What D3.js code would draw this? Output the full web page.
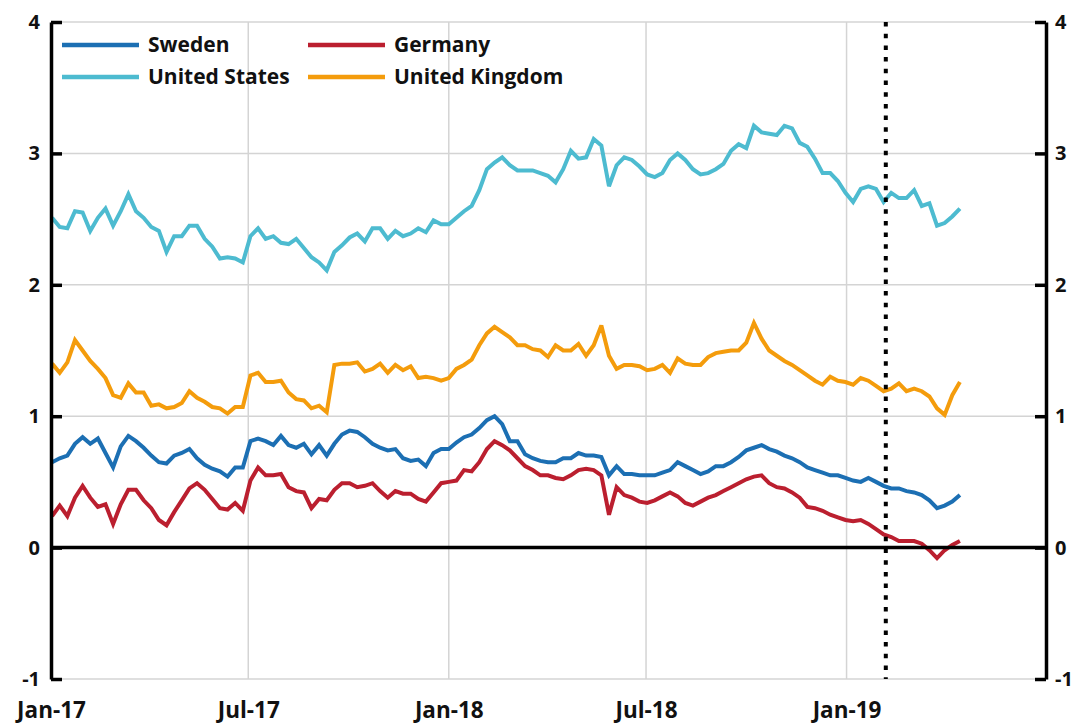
<!DOCTYPE html>
<html>
<head>
<meta charset="utf-8">
<script src="https://cdn.jsdelivr.net/npm/d3@7/dist/d3.min.js"></script>
<style>
  html, body { margin: 0; padding: 0; background: #fff; }
  svg { display: block; }
  text { font-family: "Open Sans", "DejaVu Sans", sans-serif; font-weight: 700; fill: #111; }
</style>
</head>
<body>
<svg id="chart" width="1079" height="725"></svg>
<script>
// ---- data (weekly observations, Mondays from 2 Jan 2017) ----
const firstWeek = "2017-01-02";
const lastWeek = "2019-04-15";
const seriesNames = ["Sweden", "Germany", "United States", "United Kingdom"];

const sweden = [0.65,0.68,0.70,0.79,0.84,0.79,0.83,0.72,0.61,0.77,
  0.85,0.81,0.76,0.70,0.65,0.64,0.70,0.72,0.75,0.68,
  0.63,0.60,0.58,0.54,0.61,0.61,0.81,0.83,0.81,0.78,
  0.85,0.78,0.76,0.79,0.71,0.78,0.70,0.79,0.86,0.89,
  0.88,0.84,0.79,0.76,0.74,0.75,0.68,0.66,0.67,0.62,
  0.72,0.75,0.75,0.80,0.84,0.86,0.91,0.97,1.00,0.94,
  0.81,0.81,0.71,0.68,0.66,0.65,0.65,0.68,0.68,0.72,
  0.70,0.70,0.69,0.55,0.62,0.56,0.56,0.55,0.55,0.55,
  0.57,0.59,0.65,0.62,0.59,0.56,0.58,0.62,0.62,0.65,
  0.69,0.74,0.76,0.78,0.75,0.73,0.70,0.68,0.65,0.61,
  0.59,0.57,0.55,0.55,0.53,0.51,0.50,0.53,0.50,0.47,
  0.45,0.45,0.43,0.42,0.40,0.36,0.30,0.32,0.35,0.40];

const germany = [0.24,0.32,0.24,0.38,0.47,0.38,0.31,0.33,0.18,0.33,
  0.44,0.44,0.36,0.30,0.21,0.17,0.27,0.36,0.45,0.49,
  0.44,0.37,0.30,0.29,0.34,0.28,0.51,0.61,0.55,0.55,
  0.56,0.46,0.43,0.42,0.30,0.37,0.36,0.44,0.49,0.49,
  0.46,0.47,0.49,0.43,0.38,0.43,0.41,0.41,0.37,0.35,
  0.42,0.49,0.50,0.51,0.59,0.58,0.65,0.75,0.81,0.78,
  0.74,0.68,0.62,0.59,0.55,0.55,0.53,0.52,0.55,0.59,
  0.60,0.59,0.55,0.25,0.46,0.40,0.38,0.35,0.34,0.36,
  0.39,0.42,0.39,0.34,0.32,0.35,0.38,0.40,0.43,0.46,
  0.49,0.52,0.54,0.55,0.49,0.46,0.45,0.42,0.38,0.31,
  0.30,0.28,0.25,0.23,0.21,0.20,0.21,0.18,0.14,0.10,
  0.08,0.05,0.05,0.05,0.03,-0.02,-0.08,-0.02,0.02,0.05];

const unitedStates = [2.51,2.44,2.43,2.56,2.55,2.41,2.51,2.58,2.45,2.56,
  2.69,2.56,2.51,2.44,2.41,2.25,2.37,2.37,2.45,2.45,
  2.35,2.29,2.20,2.21,2.20,2.17,2.37,2.43,2.35,2.37,
  2.32,2.31,2.35,2.28,2.21,2.17,2.11,2.25,2.30,2.36,
  2.39,2.33,2.43,2.43,2.35,2.41,2.37,2.39,2.43,2.40,
  2.49,2.46,2.46,2.51,2.56,2.60,2.72,2.88,2.93,2.97,
  2.91,2.87,2.87,2.87,2.85,2.83,2.78,2.88,3.02,2.96,
  2.97,3.11,3.06,2.75,2.91,2.97,2.95,2.90,2.84,2.82,
  2.85,2.95,3.00,2.95,2.88,2.84,2.85,2.88,2.92,3.02,
  3.07,3.04,3.21,3.16,3.15,3.14,3.21,3.19,3.08,3.05,
  2.96,2.85,2.85,2.79,2.70,2.63,2.73,2.75,2.73,2.63,
  2.70,2.66,2.66,2.72,2.60,2.62,2.45,2.47,2.52,2.58];

const unitedKingdom = [1.40,1.33,1.41,1.58,1.50,1.42,1.36,1.29,1.16,1.14,
  1.25,1.18,1.18,1.08,1.09,1.06,1.07,1.10,1.19,1.14,
  1.11,1.07,1.06,1.02,1.07,1.07,1.31,1.33,1.26,1.26,
  1.27,1.18,1.13,1.12,1.06,1.08,1.03,1.39,1.40,1.40,
  1.41,1.34,1.36,1.40,1.33,1.39,1.35,1.38,1.29,1.30,
  1.29,1.27,1.29,1.36,1.39,1.43,1.54,1.63,1.68,1.64,
  1.60,1.54,1.54,1.51,1.50,1.45,1.54,1.50,1.50,1.55,
  1.46,1.54,1.69,1.46,1.36,1.39,1.39,1.38,1.35,1.36,
  1.39,1.33,1.44,1.40,1.39,1.39,1.45,1.48,1.49,1.50,
  1.50,1.56,1.71,1.59,1.50,1.46,1.42,1.39,1.35,1.31,
  1.27,1.24,1.30,1.27,1.26,1.24,1.29,1.27,1.23,1.19,
  1.21,1.25,1.19,1.21,1.19,1.15,1.06,1.01,1.16,1.26];

const yTicks = [-1, 0, 1, 2, 3, 4];
const xTickLabels = ["2017-01-01", "2017-07-01", "2018-01-01", "2018-07-01", "2019-01-01"];
const markerDate = "2019-02-06";
const xDomain = ["2017-01-01", "2019-07-03"];

// ---- drawing ----
const parse = d3.utcParse("%Y-%m-%d");
const fmt = d3.utcFormat("%b-%y");
const weeks = d3.utcMonday.range(parse(firstWeek), d3.utcDay.offset(parse(lastWeek), 1));

const colors = {
  "Sweden": "#1c6fb3",
  "Germany": "#bb1f2f",
  "United States": "#4dbbd0",
  "United Kingdom": "#f49c0c"
};
const valuesByName = {
  "Sweden": sweden,
  "Germany": germany,
  "United States": unitedStates,
  "United Kingdom": unitedKingdom
};

const L = 51, R = 1046, T = 22, B = 679;
const svg = d3.select("#chart");
const x = d3.scaleUtc().domain(xDomain.map(parse)).range([L, R]);
const y = d3.scaleLinear().domain([-1, 4]).range([B, T]);

// gridlines
const grid = svg.append("g");
grid.selectAll("line.h").data(yTicks.filter(d => d !== 0)).join("line")
  .attr("x1", L).attr("x2", R)
  .attr("y1", d => y(d)).attr("y2", d => y(d))
  .attr("stroke", "#d4d4d4").attr("stroke-width", 1.5);
grid.selectAll("line.v").data(xTickLabels.slice(1).map(parse)).join("line")
  .attr("x1", d => x(d)).attr("x2", d => x(d))
  .attr("y1", T).attr("y2", B)
  .attr("stroke", "#d4d4d4").attr("stroke-width", 1.5);

// series
const line = d3.line().x((d, i) => x(weeks[i])).y(d => y(d));
const drawOrder = ["United States", "United Kingdom", "Sweden", "Germany"];
svg.append("g").selectAll("path").data(drawOrder).join("path")
  .attr("d", n => line(valuesByName[n]))
  .attr("fill", "none")
  .attr("stroke", n => colors[n])
  .attr("stroke-width", 4)
  .attr("stroke-linejoin", "miter")
  .attr("stroke-miterlimit", 3);

// zero line
svg.append("line")
  .attr("x1", L).attr("x2", R).attr("y1", y(0)).attr("y2", y(0))
  .attr("stroke", "#000").attr("stroke-width", 3.5);

// dotted marker line
svg.append("line")
  .attr("x1", x(parse(markerDate))).attr("x2", x(parse(markerDate)))
  .attr("y1", T).attr("y2", B)
  .attr("stroke", "#000").attr("stroke-width", 4)
  .attr("stroke-dasharray", "4.5,7.2");

// y axes
const yFmt = d => String(d);
function styleAxis(g) {
  g.select(".domain").attr("stroke", "#000").attr("stroke-width", 3.5);
  g.selectAll(".tick line").attr("stroke", "#000").attr("stroke-width", 3.5);
  g.selectAll(".tick text").style("font-size", "20px").attr("fill", "#111");
}
svg.append("g").attr("transform", `translate(${L},0)`)
  .call(d3.axisLeft(y).tickValues(yTicks).tickFormat(yFmt)
    .tickSizeInner(-11).tickSizeOuter(0).tickPadding(11))
  .call(styleAxis);
svg.append("g").attr("transform", `translate(${R},0)`)
  .call(d3.axisRight(y).tickValues(yTicks).tickFormat(yFmt)
    .tickSizeInner(-11).tickSizeOuter(0).tickPadding(9))
  .call(styleAxis);

// x axis labels
const xa = svg.append("g").attr("transform", `translate(0,${B})`)
  .call(d3.axisBottom(x).tickValues(xTickLabels.map(parse)).tickFormat(fmt)
    .tickSize(0).tickPadding(23));
xa.select(".domain").remove();
xa.selectAll(".tick text").style("font-size", "22.5px").attr("fill", "#111");

// legend
const legendItems = [
  {name: "Sweden", lx: 62, ly: 45},
  {name: "United States", lx: 62, ly: 77},
  {name: "Germany", lx: 308, ly: 45},
  {name: "United Kingdom", lx: 308, ly: 77}
];
const lg = svg.append("g");
lg.selectAll("line").data(legendItems).join("line")
  .attr("x1", d => d.lx).attr("x2", d => d.lx + 77)
  .attr("y1", d => d.ly).attr("y2", d => d.ly)
  .attr("stroke", d => colors[d.name]).attr("stroke-width", 4.5);
lg.selectAll("text").data(legendItems).join("text")
  .attr("x", d => d.lx + 86).attr("y", d => d.ly)
  .attr("dy", "0.35em")
  .style("font-size", "21px")
  .text(d => d.name);
</script>
</body>
</html>
